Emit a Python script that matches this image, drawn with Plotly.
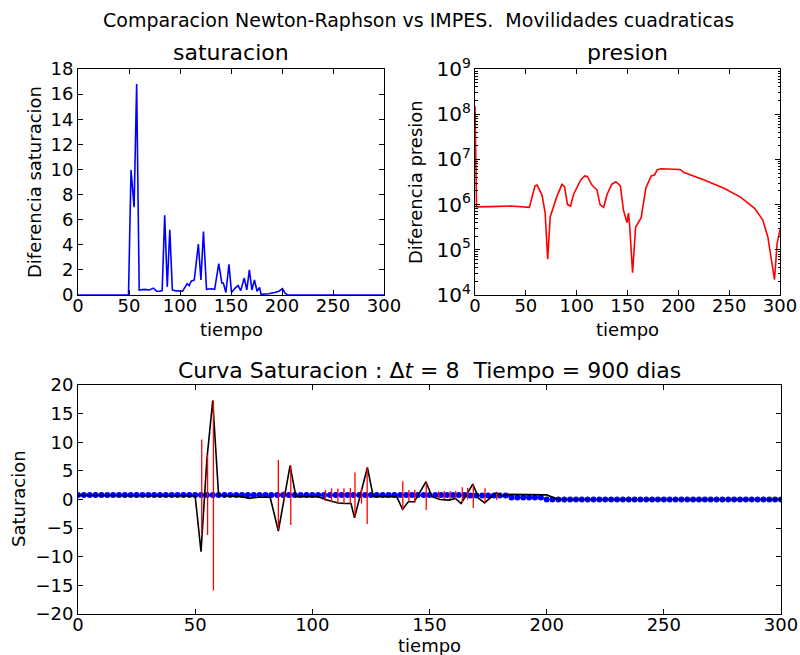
import plotly.graph_objects as go

# ---------------- data ----------------
# top-left: Diferencia saturacion vs tiempo
sat_t = [0, 49.5, 52, 55, 57.5, 60, 65, 70, 74, 77, 80, 82.5, 85, 87.5, 90, 92.5, 95, 100,
         102.5, 107, 109, 111, 114, 118, 120.5, 123, 126, 131, 134, 138, 141, 142.5, 145,
         148, 150.5, 154, 157, 159.5, 163, 165.5, 168, 170.5, 173, 175.5, 178, 179.5, 182,
         187, 193, 197, 200.5, 203, 205.5, 300]
sat_diff = [0, 0, 9.95, 7.0, 16.8, 0.4, 0.45, 0.4, 0.55, 0.3, 0.3, 0.35, 6.35, 0.65, 5.2,
            0.4, 0.35, 0.3, 0.3, 0.9, 0.75, 1.1, 1.2, 4.05, 1.2, 5.05, 0.45, 0.5, 0.45, 2.5,
            0.95, 0.95, 0.2, 2.45, 0.2, 0.55, 0.75, 0.35, 1.35, 0.4, 2.0, 0.4, 1.2, 0.3, 0.6,
            0.05, 0.05, 0.1, 0.2, 0.3, 0.5, 0.15, 0, 0]

# top-right: Diferencia presion vs tiempo (log)
pres_t = [0, 1.5, 15, 35, 53.5, 59, 61, 66, 69, 71.5, 74, 80.5, 85.5, 88, 91, 94, 97, 104,
          108, 110.5, 115, 120, 123, 126.5, 130, 134.5, 138.5, 143, 146, 149.5, 151, 152.2,
          155, 158, 162, 163.5, 168, 173.3, 176.5, 179.3, 183.3, 201.7, 205.7, 225.5, 245,
          261.5, 275, 283, 288, 291.3, 294.6, 297.2, 300]
pres_diff = [1.5e8, 8.9e5, 9.0e5, 9.3e5, 8.7e5, 2.6e6, 2.7e6, 1.6e6, 6.5e5, 6.2e4, 5.4e5,
             1.5e6, 2.8e6, 2.5e6, 1.0e6, 9.3e5, 1.7e6, 3.5e6, 4.3e6, 4.2e6, 2.7e6, 2.1e6,
             1.0e6, 8.7e5, 1.7e6, 2.8e6, 3.2e6, 2.6e6, 7.6e5, 4.0e5, 6.5e5, 3.2e5, 3.1e4,
             3.2e5, 4.5e5, 5.2e5, 2.3e6, 4.3e6, 4.5e6, 5.9e6, 6.2e6, 6.0e6, 5.1e6, 3.5e6,
             2.3e6, 1.45e6, 8.3e5, 4.6e5, 1.95e5, 5.9e4, 2.2e4, 1.4e5, 2.8e5]

# bottom: curva de saturacion
# blue dotted curve sampled every 2.5 units of tiempo (0 .. 300)
blue_t = [i * 2.5 for i in range(121)]
blue_s = [0.8, 0.8, 0.8, 0.8, 0.8, 0.8, 0.8, 0.8, 0.8, 0.8, 0.8, 0.8, 0.8, 0.8, 0.8, 0.8, 0.8, 0.8, 0.8, 0.8,
          0.8, 0.8, 0.8, 0.8, 0.8, 0.8, 0.8, 0.8, 0.8, 0.8, 0.8, 0.8, 0.8, 0.8, 0.8, 0.8, 0.8, 0.8, 0.8, 0.8,
          0.8, 0.8, 0.8, 0.8, 0.8, 0.8, 0.8, 0.8, 0.8, 0.8, 0.8, 0.8, 0.8, 0.8, 0.8, 0.8, 0.8, 0.8, 0.8, 0.8,
          0.8, 0.8, 0.8, 0.8, 0.8, 0.8, 0.8, 0.7, 0.7, 0.7, 0.7, 0.7, 0.7, 0.7, 0.35, 0.35, 0.35, 0.35, 0.35, 0.35,
          0.0, 0.0, 0.0, 0.0, 0.0, 0.0, 0.0, 0.0, 0.0, 0.0, 0.0, 0.0, 0.0, 0.0, 0.0, 0.0, 0.0, 0.0, 0.0, 0.0,
          0.0, 0.0, 0.0, 0.0, 0.0, 0.0, 0.0, 0.0, 0.0, 0.0, 0.0, 0.0, 0.0, 0.0, 0.0, 0.0, 0.0, 0.0, 0.0, 0.0,
          0.0]

black_t = [0, 50, 52.5, 55, 57.5, 60, 70, 73, 77, 82, 85.5, 90.5, 93, 102.5, 105.5, 108.5,
           111, 114, 116.5, 118, 123.5, 126, 136, 138.5, 141, 143.5, 148.5, 151, 154.5,
           158.5, 161, 163.5, 168.5, 171, 173.5, 178.5, 181, 184, 200, 205, 300]
black_s = [0.7, 0.6, -9.1, 7.0, 17.3, 0.7, 0.5, 0.2, 0.4, 0.4, -5.5, 5.9, 0.5, 0.5, 0.0,
           -0.4, -0.6, -0.7, -0.7, -3.2, 5.6, 0.5, 0.5, -1.7, -0.4, -0.4, 3.1, 0.5, 0.0,
           -0.1, 0.2, -0.7, 2.7, 0.2, -0.6, 1.2, 0.6, 0.9, 0.8, 0.0, 0.0]

bar_t = [52.8, 55.3, 57.8, 85.5, 88, 90.8, 105.6, 108.2, 110.9, 113.5, 116.2, 118.2, 121,
         123.4, 138.6, 141.2, 143.7, 148.6, 153.9, 156.3, 158.8, 161.2, 164, 166.3, 168.7,
         173.7, 178.7]
bar_lo = [-6.2, -6.2, -15.9, -5.3, 0.0, -4.45, -0.2, -0.5, -0.6, -0.7, -0.75, -3.0, -0.7,
          -4.3, -1.8, -0.4, -0.55, -1.85, 0.2, 0.1, 0.1, 0.1, -0.5, 0.0, -1.5, -0.55, -0.1]
bar_hi = [10.5, 7.8, 17.3, 6.9, 1.5, 6.0, 1.65, 1.95, 1.9, 1.95, 2.0, 4.7, 1.95, 5.6, 3.2,
          1.65, 1.7, 3.1, 1.4, 1.5, 1.5, 1.5, 2.15, 2.0, 2.75, 1.95, 1.2]

x_ticks = [0, 50, 100, 150, 200, 250, 300]

# ---------------- figure ----------------
FONT = "DejaVu Sans"
fig = go.Figure()

fig.add_trace(go.Scatter(x=sat_t, y=sat_diff, mode="lines",
                         line=dict(color="#0000ff", width=1.6), xaxis="x", yaxis="y"))
fig.add_trace(go.Scatter(x=pres_t, y=pres_diff, mode="lines",
                         line=dict(color="#ff0000", width=1.6), xaxis="x2", yaxis="y2"))

fig.add_trace(go.Scatter(x=blue_t, y=blue_s, mode="lines+markers",
                         line=dict(color="#0000ff", width=1),
                         marker=dict(color="#0000ff", size=6, line=dict(width=0)),
                         xaxis="x3", yaxis="y3"))
fig.add_trace(go.Scatter(x=black_t, y=black_s, mode="lines",
                         line=dict(color="black", width=1.6), xaxis="x3", yaxis="y3"))
seg_x, seg_y = [], []
for t, lo, hi in zip(bar_t, bar_lo, bar_hi):
    seg_x += [t, t, None]
    seg_y += [lo, hi, None]
fig.add_trace(go.Scatter(x=seg_x, y=seg_y, mode="lines",
                         line=dict(color="#ff0000", width=1.3), xaxis="x3", yaxis="y3"))

tickfont = dict(family=FONT, size=18, color="black")
common = dict(showline=True, linecolor="black", linewidth=1, mirror="ticks",
              ticks="inside", ticklen=5, tickcolor="black", showgrid=False,
              zeroline=False, tickfont=tickfont, automargin=False)
xcommon = dict(common, ticklabelstandoff=-6)
logcommon = dict(common, tickfont=dict(family=FONT, size=16, color="black"))

W, H = 800, 655
def xd(a, b):
    return [a / W, b / W]
def yd(top, bottom):
    return [1 - bottom / H, 1 - top / H]

fig.update_layout(
    width=W, height=H, margin=dict(l=0, r=0, t=0, b=0),
    paper_bgcolor="white", plot_bgcolor="white", showlegend=False,
    xaxis=dict(domain=xd(78, 384), range=[0, 300], tickvals=x_ticks, anchor="y", **xcommon),
    yaxis=dict(domain=yd(69, 295), range=[0, 18], dtick=2, anchor="x", **common),
    xaxis2=dict(domain=xd(475, 780), range=[0, 300], tickvals=x_ticks, anchor="y2", **xcommon),
    yaxis2=dict(domain=yd(69, 295), type="log", range=[4, 9], dtick=1,
                exponentformat="power", anchor="x2",
                minor=dict(ticks="inside", ticklen=2.5, tickcolor="black", dtick="D1"),
                **logcommon),
    xaxis3=dict(domain=xd(78, 781), range=[0, 300], tickvals=x_ticks, anchor="y3", **xcommon),
    yaxis3=dict(domain=yd(385, 614), range=[-20, 20], dtick=5, anchor="x3", **common),
)

def ann(text, x, y, size, angle=0):
    fig.add_annotation(text=text, x=x / W, y=1 - y / H, xref="paper", yref="paper",
                       showarrow=False, textangle=angle, xanchor="center", yanchor="middle",
                       font=dict(family=FONT, size=size, color="black"))

ann("Comparacion Newton-Raphson vs IMPES.  Movilidades cuadraticas", 418, 20, 19)
ann("saturacion", 231, 52, 22)
ann("presion", 627, 52, 22)
ann("tiempo", 231, 329, 18)
ann("tiempo", 627, 329, 18)
ann("tiempo", 429, 645, 18)
ann("Diferencia saturacion", 35, 182, 18, -90)
ann("Diferencia presion", 416, 182, 18, -90)
ann("Saturacion", 18, 499, 18, -90)
ann("Curva Saturacion : Δ<i>t</i> = 8  Tiempo = 900 dias", 429, 370, 22)

fig.write_html("out.html")
